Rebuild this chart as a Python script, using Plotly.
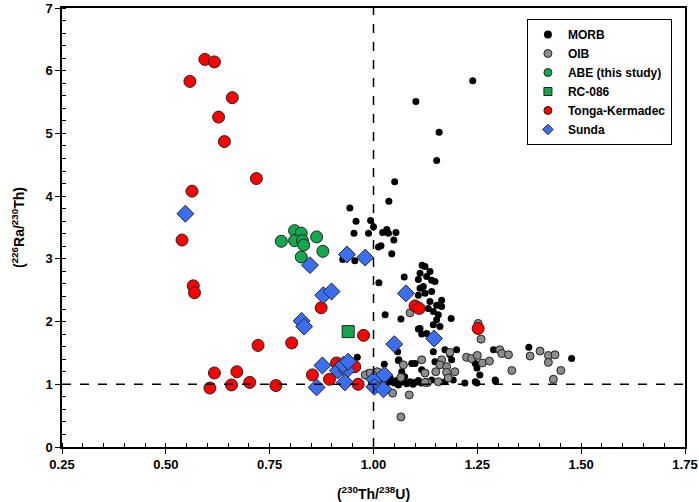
import plotly.graph_objects as go

# MORB (black)
morb_x = [1.239, 1.102, 1.158, 1.152, 1.051, 1.037,
          0.943, 0.958, 0.993, 1.000, 0.953, 0.988, 1.022, 1.032, 1.036, 1.054, 1.049, 1.012, 1.018, 1.044,
          0.926, 0.955, 1.013, 1.074, 1.108, 1.028, 1.066,
          1.117, 1.124, 1.112, 1.136, 1.128, 1.148, 1.140, 1.112, 1.120, 1.140, 1.124, 1.108, 1.136, 1.164,
          1.152, 1.132, 1.164, 1.144, 1.156, 1.187, 1.152, 1.144, 1.160, 1.112, 1.108, 1.128, 1.116,
          1.144, 1.172, 1.200, 1.184, 1.188, 1.061, 1.092, 1.289, 1.245, 1.249, 1.256, 1.116, 1.124, 1.068,
          0.961, 1.026, 1.058, 1.060, 1.100, 0.987, 1.148,
          0.995, 1.010, 1.020, 1.030, 1.040, 1.050, 1.055, 1.060, 1.065, 1.072, 1.080, 1.088, 1.095, 1.100,
          1.108, 1.115, 1.140, 1.172, 1.192, 1.220, 1.245, 1.249, 1.293, 1.294, 1.374, 1.477, 1.040, 1.075]
morb_y = [5.84, 5.51, 5.02, 4.57, 4.23, 3.92,
          3.81, 3.60, 3.61, 3.51, 3.41, 3.41, 3.42, 3.47, 3.41, 3.42, 3.30, 3.19, 3.21, 3.08,
          2.99, 2.97, 2.62, 2.71, 2.67, 2.11, 2.04,
          2.90, 2.88, 2.77, 2.80, 2.72, 2.64, 2.66, 2.53, 2.56, 2.48, 2.45, 2.42, 2.32, 2.34,
          2.26, 2.21, 2.24, 2.16, 2.11, 2.05, 2.03, 1.95, 1.92, 1.89, 1.88, 1.81, 1.80,
          1.52, 1.55, 1.55, 1.47, 1.39, 1.39, 1.33, 1.55, 1.33, 1.26, 1.15, 1.23, 1.18, 1.20,
          1.43, 1.32, 1.52, 1.38, 1.33, 1.18, 1.36,
          1.05, 1.02, 1.06, 1.00, 1.04, 1.02, 1.06, 0.99, 1.03, 1.05, 1.01, 1.04, 1.00, 1.03,
          1.06, 1.02, 1.07, 1.04, 1.07, 1.02, 1.04, 1.02, 1.07, 1.05, 1.59, 1.41, 1.10, 1.12]

# OIB (grey)
oib_x = [1.088, 1.252, 1.259, 1.116, 1.164, 1.184, 1.160, 1.176, 1.196, 1.176, 1.150, 1.180, 1.156, 1.130,
         1.224, 1.236, 1.250, 1.262, 1.279, 1.304, 1.309, 1.325, 1.333, 1.377, 1.401, 1.421, 1.437, 1.421,
         1.451, 1.433, 1.072, 1.066, 1.086, 1.046, 1.066, 0.980, 0.992, 1.009, 1.124, 1.010, 1.124]
oib_y = [2.14, 1.97, 1.72, 1.39, 1.39, 1.51, 1.31, 1.28, 1.20, 1.19, 1.20, 1.10, 1.04, 1.03,
         1.43, 1.41, 1.46, 1.34, 1.37, 1.55, 1.49, 1.47, 1.22, 1.45, 1.53, 1.46, 1.47, 1.35,
         1.22, 1.08, 1.31, 1.11, 0.83, 0.86, 0.48, 1.15, 1.18, 1.20, 1.18, 1.02, 1.03]

# ABE (this study)
abe_x = [0.778, 0.810, 0.826, 0.810, 0.829, 0.832, 0.863, 0.878, 0.826]
abe_y = [3.28, 3.45, 3.41, 3.29, 3.29, 3.22, 3.35, 3.12, 3.03]

# RC-086
rc_x = [0.939]
rc_y = [1.84]

# Tonga-Kermadec
tonga_x = [0.594, 0.617, 0.558, 0.660, 0.627, 0.641, 0.718, 0.563, 0.539, 0.566, 0.569, 0.722, 0.803,
           0.617, 0.671, 0.606, 0.658, 0.702, 0.765, 0.853, 0.874, 0.976, 0.911, 0.955, 0.894, 0.963,
           1.100, 1.110, 1.252]
tonga_y = [6.18, 6.14, 5.83, 5.57, 5.26, 4.87, 4.28, 4.08, 3.30, 2.57, 2.46, 1.62, 1.66,
           1.18, 1.20, 0.94, 0.99, 1.03, 0.98, 1.15, 2.22, 1.78, 1.34, 1.28, 1.08, 1.00,
           2.25, 2.21, 1.89]

# Sunda
sunda_x = [0.547, 0.847, 0.936, 0.980, 0.879, 0.899, 1.078, 0.827, 0.833, 0.877, 0.863, 0.914, 0.935,
           0.927, 0.939, 0.931, 1.050, 1.146, 1.002, 1.026, 1.002, 1.024]
sunda_y = [3.72, 2.90, 3.07, 3.02, 2.42, 2.48, 2.45, 2.01, 1.92, 1.30, 0.95, 1.22, 1.22,
           1.31, 1.36, 1.03, 1.64, 1.73, 1.08, 1.15, 0.96, 0.92]

x_ticks = [0.25, 0.50, 0.75, 1.00, 1.25, 1.50, 1.75]
y_ticks = [0, 1, 2, 3, 4, 5, 6, 7]

edge = dict(color='#222222', width=1)
series = [
    ('MORB', morb_x, morb_y, dict(color='black', size=7, line=dict(width=0))),
    ('OIB', oib_x, oib_y, dict(color='#8c8c8c', size=8, line=edge)),
    ('ABE (this study)', abe_x, abe_y, dict(color='#13A84E', size=12, line=edge)),
    ('RC-086', rc_x, rc_y, dict(color='#13A84E', size=12, symbol='square', line=edge)),
    ('Tonga-Kermadec', tonga_x, tonga_y, dict(color='#FF0000', size=12, line=edge)),
    ('Sunda', sunda_x, sunda_y, dict(color='#3B6EF0', size=13, symbol='diamond', line=edge)),
]

fig = go.Figure()
for name, xs, ys, mk in series:
    fig.add_trace(go.Scatter(x=xs, y=ys, mode='markers', name=name, marker=mk, showlegend=False))
# small legend symbols, as in the original
for name, xs, ys, mk in series:
    small = dict(mk, size=8)
    fig.add_trace(go.Scatter(x=[None], y=[None], mode='markers', name='<b>%s</b>' % name, marker=small))

# reference lines
fig.add_shape(type='line', x0=1, x1=1, y0=0, y1=7, line=dict(color='black', width=1.5, dash='dash'))
fig.add_shape(type='line', x0=0.25, x1=1.75, y0=1, y1=1, line=dict(color='black', width=1.5, dash='dash'))

font = dict(family='Liberation Sans, Arial', size=13, color='black', weight='bold')
fig.update_xaxes(range=[0.25, 1.75], tickvals=x_ticks, ticktext=['<b>%.2f</b>' % v for v in x_ticks],
                 automargin=False,
                 showgrid=False, zeroline=False, showline=True, linecolor='black', linewidth=1.5,
                 mirror=True, ticks='outside', ticklen=5, tickcolor='black', tickfont=font,
                 minor=dict(dtick=0.05, ticks='inside', ticklen=4, tickcolor='black', showgrid=False),
                 title=dict(text='<b>(<sup>230</sup>Th/<sup>238</sup>U)</b>',
                            font=dict(family='Liberation Sans, Arial', size=14, color='black')))
fig.update_yaxes(range=[0, 7], tickvals=y_ticks, ticktext=['<b>%d</b>' % v for v in y_ticks],
                 automargin=False,
                 showgrid=False, zeroline=False, showline=True, linecolor='black', linewidth=1.5,
                 mirror=True, ticks='outside', ticklen=5, tickcolor='black', tickfont=font,
                 minor=dict(dtick=0.2, ticks='inside', ticklen=4, tickcolor='black', showgrid=False),
                 title=dict(text='<b>(<sup>226</sup>Ra/<sup>230</sup>Th)</b>',
                            font=dict(family='Liberation Sans, Arial', size=14, color='black')))
fig.update_layout(width=699, height=502, template=None,
                  plot_bgcolor='white', paper_bgcolor='white',
                  margin=dict(l=62, r=14, t=8, b=55),
                  legend=dict(x=0.979, y=0.975, xanchor='right', yanchor='top',
                              bgcolor='white', bordercolor='black', borderwidth=1,
                              font=dict(family='Liberation Sans, Arial', size=12, color='black'),
                              itemwidth=30, tracegroupgap=0))
# page has a default 8px body margin; drop it so the figure fills the window
fig.write_html('out.html', config={'displayModeBar': False},
               post_script='document.body.style.margin = "0px";')
